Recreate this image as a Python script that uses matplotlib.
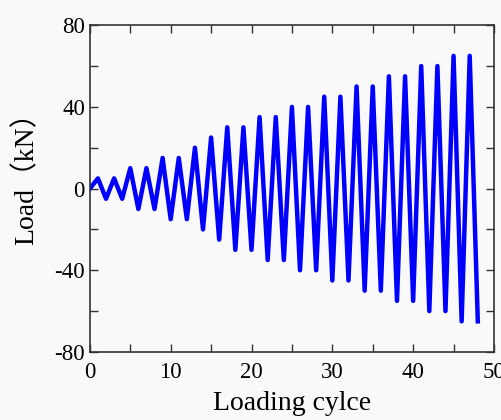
import numpy as np
import matplotlib.pyplot as plt
from matplotlib.ticker import MultipleLocator

# ----------------------------
# Data
# ----------------------------
cycle = list(range(0, 49))
load = [0,
        5, -5, 5, -5,
        10, -10, 10, -10,
        15, -15, 15, -15,
        20, -20,
        25, -25,
        30, -30, 30, -30,
        35, -35, 35, -35,
        40, -40, 40, -40,
        45, -45, 45, -45,
        50, -50, 50, -50,
        55, -55, 55, -55,
        60, -60, 60, -60,
        65, -65, 65, -65]

plt.rcParams["font.family"] = ["Liberation Serif", "Noto Sans CJK SC"]
plt.rcParams["axes.unicode_minus"] = False

fig = plt.figure(figsize=(5.02, 4.2), dpi=100, facecolor="#f9f9f9")
ax = fig.add_axes([0.179, 0.162, 0.805, 0.778], facecolor="#f9f9f9")

ax.plot(cycle, load, color="#0000ff", linewidth=3.2)

ax.set_xlim(0, 50)
ax.set_ylim(-80, 80)
ax.xaxis.set_major_locator(MultipleLocator(10))
ax.xaxis.set_minor_locator(MultipleLocator(5))
ax.yaxis.set_major_locator(MultipleLocator(40))
ax.yaxis.set_minor_locator(MultipleLocator(20))

ax.tick_params(which="both", direction="in", top=True, right=True,
               labelsize=16.5, color="#333333", width=1.0, length=6)
ax.tick_params(axis="x", pad=7)
for s in ax.spines.values():
    s.set_color("#333333")
    s.set_linewidth(1.2)

ax.set_xlabel("Loading cylce", fontsize=20, labelpad=6)
ax.set_ylabel("Load（kN）", fontsize=20)
ax.yaxis.set_label_coords(-0.124, 0.55)

fig.savefig("out.png", dpi=100, facecolor=fig.get_facecolor())
